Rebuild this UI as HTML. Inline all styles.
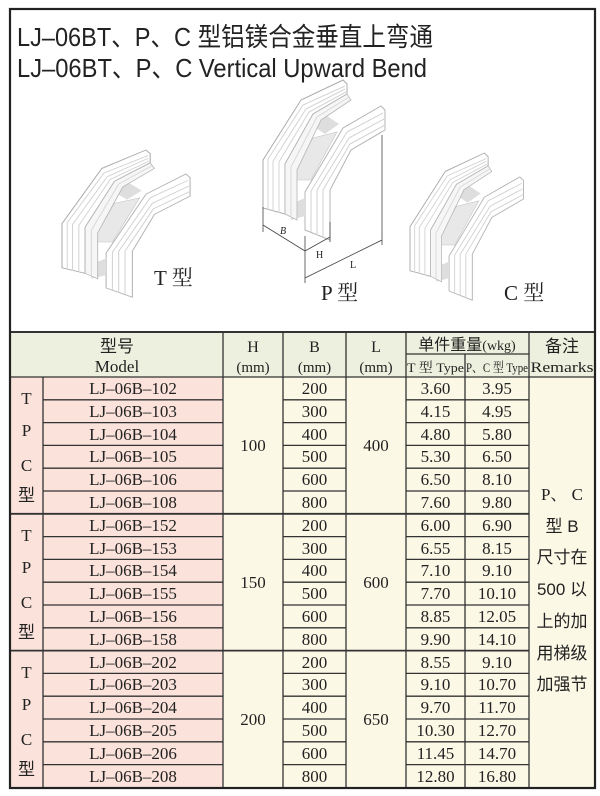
<!DOCTYPE html>
<html><head><meta charset="utf-8"><style>
html,body{margin:0;padding:0;background:#fff;}
svg{display:block;}
.s{font-family:"Liberation Serif","Noto Serif CJK SC",serif;fill:#222;}
.c{font-family:"Liberation Sans","Noto Sans CJK SC",sans-serif;fill:#222;}
</style></head><body>
<svg width="600" height="796" viewBox="0 0 600 796" xmlns="http://www.w3.org/2000/svg">
<defs>
<g id="bend">
  <polygon points="42,112 80,48 118,26 122,30 122,50 88,70 67,110 67,160 42,150" fill="#fff" stroke="#b4b4b4" stroke-width="1"/>
  <polyline points="48,152 48,111 84,52 120,33" fill="none" stroke="#d2d2d2"/>
  <polyline points="54,155 54,110 86,58 121,39" fill="none" stroke="#d2d2d2"/>
  <polyline points="60,157 60,110 87,64 122,45" fill="none" stroke="#d2d2d2"/>
  <polygon points="24,100 50,58 74,52 48,100" fill="#e8e8e8" stroke="#c4c4c4" stroke-width="0.6"/>
  <polygon points="28,124 42,118 42,136 28,140" fill="#dedede"/>
  <polygon points="50,46 64,36 76,44 62,54" fill="#dedede"/>
  <polygon points="0,80 38,20 80,0 84,4 84,14 50,34 22,84 22,134 0,128" fill="#fff" stroke="#ababab" stroke-width="1"/>
  <polyline points="5,130 5,79 40,25 82,6" fill="none" stroke="#d4d4d4"/>
  <polyline points="10,131 10,81 43,29 82,9" fill="none" stroke="#d4d4d4"/>
  <polyline points="16,133 16,82 46,32 83,12" fill="none" stroke="#d4d4d4"/>
  <polygon points="22,84 50,34 84,14 88,20 58,40 34,90 34,140 22,134" fill="#f6f6f6" stroke="#b4b4b4" stroke-width="0.8"/>
  <polyline points="28,137 28,87 54,37 86,17" fill="none" stroke="#d8d8d8"/>
</g>
</defs>
<rect x="10" y="9" width="585" height="779" fill="#fff" stroke="#222" stroke-width="2"/>
<text class="c" x="17" y="46" font-size="26" textLength="416" lengthAdjust="spacingAndGlyphs">LJ–06BT、P、C 型铝镁合金垂直上弯通</text>
<text class="c" x="17" y="77" font-size="26" textLength="410" lengthAdjust="spacingAndGlyphs">LJ–06BT、P、C Vertical Upward Bend</text>

<use href="#bend" transform="translate(62,150) scale(1.05,0.92)"/>
<use href="#bend" transform="translate(263,80)"/>
<use href="#bend" transform="translate(410,153) scale(0.93,0.92)"/>

<g stroke="#444" stroke-width="0.8" fill="none">
  <line x1="263" y1="207" x2="263" y2="232"/>
  <line x1="305" y1="236" x2="305" y2="283"/>
  <line x1="330" y1="222" x2="330" y2="242"/>
  <line x1="382" y1="135" x2="382" y2="245"/>
  <line x1="263" y1="225" x2="305" y2="251"/>
  <line x1="305" y1="251" x2="330" y2="237"/>
  <line x1="305" y1="278" x2="382" y2="240"/>
</g>
<text class="s" x="280" y="234" font-size="10" font-style="italic">B</text>
<text class="s" x="316" y="258" font-size="10">H</text>
<text class="s" x="350" y="268" font-size="10">L</text>
<text class="s" x="154" y="285" font-size="21">T 型</text>
<text class="s" x="321" y="300" font-size="21">P 型</text>
<text class="s" x="504" y="300" font-size="21">C 型</text>

<rect x="10" y="332" width="585" height="45" fill="#edf0de"/>
<rect x="10" y="377" width="213" height="410" fill="#fbe3db"/>
<rect x="223" y="377" width="372" height="410" fill="#fcf8e6"/>

<g stroke="#333" stroke-width="1.3" fill="none">
  <line x1="10" y1="332" x2="595" y2="332" stroke-width="2"/>
  <line x1="10" y1="377" x2="595" y2="377"/>
  <line x1="406" y1="354" x2="529" y2="354"/>
  <line x1="43" y1="377" x2="43" y2="787"/>
  <line x1="223" y1="332" x2="223" y2="787"/>
  <line x1="283" y1="332" x2="283" y2="787"/>
  <line x1="346" y1="332" x2="346" y2="787"/>
  <line x1="406" y1="332" x2="406" y2="787"/>
  <line x1="465" y1="354" x2="465" y2="787"/>
  <line x1="529" y1="332" x2="529" y2="787"/>
  <line x1="10" y1="513.8" x2="529" y2="513.8" stroke-width="1.8"/>
  <line x1="10" y1="650.6" x2="529" y2="650.6" stroke-width="1.8"/>
  <g>
    <path d="M43 399.8H223M43 422.6H223M43 445.4H223M43 468.2H223M43 491H223M43 536.6H223M43 559.4H223M43 582.2H223M43 605H223M43 627.8H223M43 673.4H223M43 696.2H223M43 719H223M43 741.8H223M43 764.6H223"/>
    <path d="M283 399.8H346M283 422.6H346M283 445.4H346M283 468.2H346M283 491H346M283 536.6H346M283 559.4H346M283 582.2H346M283 605H346M283 627.8H346M283 673.4H346M283 696.2H346M283 719H346M283 741.8H346M283 764.6H346"/>
    <path d="M406 399.8H529M406 422.6H529M406 445.4H529M406 468.2H529M406 491H529M406 536.6H529M406 559.4H529M406 582.2H529M406 605H529M406 627.8H529M406 673.4H529M406 696.2H529M406 719H529M406 741.8H529M406 764.6H529"/>
  </g>
</g>
<rect x="10" y="9" width="585" height="779" fill="none" stroke="#222" stroke-width="2.2"/>

<g text-anchor="middle">
<text class="c" x="117" y="352" font-size="17">型号</text>
<text class="s" x="117" y="372" font-size="17">Model</text>
<text class="s" x="253" y="352" font-size="16">H</text>
<text class="s" x="253" y="372" font-size="15">(mm)</text>
<text class="s" x="314.5" y="352" font-size="16">B</text>
<text class="s" x="314.5" y="372" font-size="15">(mm)</text>
<text class="s" x="376" y="352" font-size="16">L</text>
<text class="s" x="376" y="372" font-size="15">(mm)</text>
<text class="c" x="467" y="350" font-size="16"><tspan>单件重量</tspan><tspan class="s" font-size="14">(wkg)</tspan></text>
<text class="c" x="562" y="352" font-size="17">备注</text>
<text class="s" x="562" y="372" font-size="15" textLength="63" lengthAdjust="spacingAndGlyphs">Remarks</text>
<text class="s" x="435.5" y="372" font-size="13" textLength="57" lengthAdjust="spacingAndGlyphs">T 型 Type</text>
<text class="s" x="497" y="372" font-size="13" textLength="62" lengthAdjust="spacingAndGlyphs">P、C 型 Type</text>
</g>

<g class="s" font-size="17" text-anchor="middle">
<g>
<text x="26.5" y="404" class="s">T</text><text x="26.5" y="436" class="s">P</text><text x="26.5" y="471" class="s">C</text><text x="26.5" y="501" class="c" font-size="17">型</text>
<text x="26.5" y="541" class="s">T</text><text x="26.5" y="573" class="s">P</text><text x="26.5" y="608" class="s">C</text><text x="26.5" y="638" class="c" font-size="17">型</text>
<text x="26.5" y="678" class="s">T</text><text x="26.5" y="710" class="s">P</text><text x="26.5" y="745" class="s">C</text><text x="26.5" y="775" class="c" font-size="17">型</text>
</g>
<text x="253" y="451">100</text><text x="253" y="588">150</text><text x="253" y="725">200</text>
<text x="376" y="451">400</text><text x="376" y="588">600</text><text x="376" y="725">650</text>

<text x="133" y="394">LJ–06B–102</text><text x="314.5" y="394">200</text><text x="435.5" y="394">3.60</text><text x="497" y="394">3.95</text>
<text x="133" y="417">LJ–06B–103</text><text x="314.5" y="417">300</text><text x="435.5" y="417">4.15</text><text x="497" y="417">4.95</text>
<text x="133" y="440">LJ–06B–104</text><text x="314.5" y="440">400</text><text x="435.5" y="440">4.80</text><text x="497" y="440">5.80</text>
<text x="133" y="462">LJ–06B–105</text><text x="314.5" y="462">500</text><text x="435.5" y="462">5.30</text><text x="497" y="462">6.50</text>
<text x="133" y="485">LJ–06B–106</text><text x="314.5" y="485">600</text><text x="435.5" y="485">6.50</text><text x="497" y="485">8.10</text>
<text x="133" y="508">LJ–06B–108</text><text x="314.5" y="508">800</text><text x="435.5" y="508">7.60</text><text x="497" y="508">9.80</text>
<text x="133" y="531">LJ–06B–152</text><text x="314.5" y="531">200</text><text x="435.5" y="531">6.00</text><text x="497" y="531">6.90</text>
<text x="133" y="554">LJ–06B–153</text><text x="314.5" y="554">300</text><text x="435.5" y="554">6.55</text><text x="497" y="554">8.15</text>
<text x="133" y="576">LJ–06B–154</text><text x="314.5" y="576">400</text><text x="435.5" y="576">7.10</text><text x="497" y="576">9.10</text>
<text x="133" y="599">LJ–06B–155</text><text x="314.5" y="599">500</text><text x="435.5" y="599">7.70</text><text x="497" y="599">10.10</text>
<text x="133" y="622">LJ–06B–156</text><text x="314.5" y="622">600</text><text x="435.5" y="622">8.85</text><text x="497" y="622">12.05</text>
<text x="133" y="645">LJ–06B–158</text><text x="314.5" y="645">800</text><text x="435.5" y="645">9.90</text><text x="497" y="645">14.10</text>
<text x="133" y="668">LJ–06B–202</text><text x="314.5" y="668">200</text><text x="435.5" y="668">8.55</text><text x="497" y="668">9.10</text>
<text x="133" y="690">LJ–06B–203</text><text x="314.5" y="690">300</text><text x="435.5" y="690">9.10</text><text x="497" y="690">10.70</text>
<text x="133" y="713">LJ–06B–204</text><text x="314.5" y="713">400</text><text x="435.5" y="713">9.70</text><text x="497" y="713">11.70</text>
<text x="133" y="736">LJ–06B–205</text><text x="314.5" y="736">500</text><text x="435.5" y="736">10.30</text><text x="497" y="736">12.70</text>
<text x="133" y="759">LJ–06B–206</text><text x="314.5" y="759">600</text><text x="435.5" y="759">11.45</text><text x="497" y="759">14.70</text>
<text x="133" y="782">LJ–06B–208</text><text x="314.5" y="782">800</text><text x="435.5" y="782">12.80</text><text x="497" y="782">16.80</text>
</g>

<g text-anchor="middle" font-size="17">
<text class="s" x="562" y="500">P、 C</text>
<text class="c" x="562" y="532">型 B</text>
<text class="c" x="562" y="563">尺寸在</text>
<text class="c" x="562" y="595">500 以</text>
<text class="c" x="562" y="627">上的加</text>
<text class="c" x="562" y="659">用梯级</text>
<text class="c" x="562" y="690">加强节</text>
</g>
</svg>
</body></html>
